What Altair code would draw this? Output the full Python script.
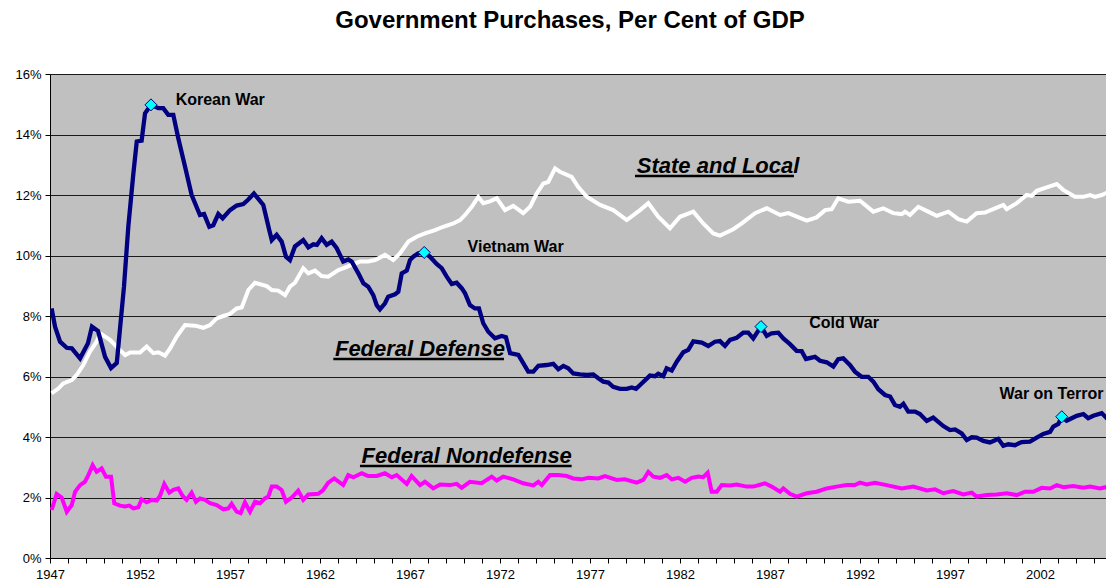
import altair as alt
import pandas as pd

# ---------------- data ----------------
defense_year = [1947.09, 1947.28, 1947.56, 1947.93, 1948.21, 1948.67, 1949.11, 1949.33, 1949.67, 1950.06,
                1950.39, 1950.71, 1951.11, 1951.35, 1951.63, 1951.82, 1952.09, 1952.28, 1952.61, 1953.02,
                1953.29, 1953.57, 1953.85, 1954.13, 1954.5, 1954.87, 1955.33, 1955.56, 1955.85, 1956.07,
                1956.35, 1956.59, 1957.0, 1957.37, 1957.74, 1958.02, 1958.33, 1958.85, 1959.18, 1959.32,
                1959.59, 1959.87, 1960.11, 1960.33, 1960.61, 1961.07, 1961.35, 1961.63, 1961.83, 1962.09,
                1962.37, 1962.65, 1962.93, 1963.29, 1963.57, 1963.76, 1964.13, 1964.41, 1964.68, 1964.96,
                1965.15, 1965.33, 1965.61, 1965.79, 1966.17, 1966.35, 1966.54, 1966.82, 1967.0, 1967.18,
                1967.46, 1967.79, 1968.11, 1968.48, 1968.76, 1969.04, 1969.32, 1969.59, 1969.87, 1970.06,
                1970.33, 1970.61, 1970.83, 1971.07, 1971.35, 1971.72, 1972.09, 1972.33, 1972.56, 1973.02,
                1973.57, 1973.85, 1974.13, 1974.59, 1974.96, 1975.24, 1975.52, 1975.79, 1976.07, 1976.44,
                1976.82, 1977.18, 1977.46, 1977.74, 1978.02, 1978.29, 1978.67, 1979.04, 1979.32, 1979.56,
                1979.87, 1980.33, 1980.61, 1980.79, 1981.07, 1981.26, 1981.54, 1981.82, 1982.18, 1982.46,
                1982.74, 1983.21, 1983.57, 1983.94, 1984.22, 1984.5, 1984.78, 1985.15, 1985.52, 1985.79,
                1986.07, 1986.5, 1986.82, 1987.09, 1987.46, 1987.74, 1988.11, 1988.48, 1988.76, 1989.0,
                1989.5, 1989.78, 1990.15, 1990.52, 1990.79, 1991.07, 1991.26, 1991.44, 1991.72, 1992.09,
                1992.46, 1992.74, 1993.02, 1993.39, 1993.67, 1993.94, 1994.22, 1994.41, 1994.68, 1995.06,
                1995.33, 1995.71, 1996.07, 1996.35, 1996.63, 1997.0, 1997.28, 1997.65, 1997.93, 1998.21,
                1998.48, 1998.85, 1999.22, 1999.41, 1999.68, 1999.96, 2000.24, 2000.61, 2000.98, 2001.44,
                2001.82, 2002.18, 2002.56, 2002.74, 2003.02, 2003.21, 2003.48, 2003.76, 2004.04, 2004.41,
                2004.68, 2004.96, 2005.43, 2005.71, 2006.11]
defense_val = [8.25, 7.65, 7.15, 6.95, 6.93, 6.6, 7.1, 7.65, 7.5, 6.65,
               6.28, 6.45, 8.97, 10.95, 12.7, 13.77, 13.8, 14.7, 14.98, 14.87,
               14.87, 14.65, 14.65, 13.87, 12.94, 12.0, 11.34, 11.37, 10.95, 11.0,
               11.37, 11.23, 11.5, 11.65, 11.7, 11.85, 12.05, 11.67, 10.84, 10.51,
               10.68, 10.46, 9.96, 9.85, 10.3, 10.51, 10.27, 10.37, 10.35, 10.57,
               10.35, 10.46, 10.24, 9.8, 9.87, 9.8, 9.41, 9.08, 8.97, 8.69,
               8.36, 8.22, 8.42, 8.64, 8.72, 8.8, 9.41, 9.5, 9.85, 9.96,
               10.07, 10.1, 9.96, 9.72, 9.58, 9.3, 9.06, 9.1, 8.92, 8.75,
               8.36, 8.25, 8.25, 7.76, 7.48, 7.26, 7.34, 7.3, 6.77, 6.71,
               6.16, 6.16, 6.35, 6.38, 6.42, 6.24, 6.35, 6.27, 6.1, 6.07,
               6.05, 6.07, 5.94, 5.83, 5.8, 5.66, 5.59, 5.59, 5.64, 5.59,
               5.77, 6.03, 6.01, 6.09, 6.01, 6.27, 6.2, 6.49, 6.8, 6.88,
               7.16, 7.12, 7.01, 7.15, 7.17, 7.01, 7.21, 7.28, 7.45, 7.45,
               7.26, 7.65, 7.34, 7.43, 7.45, 7.26, 7.07, 6.85, 6.84, 6.58,
               6.65, 6.52, 6.47, 6.33, 6.57, 6.6, 6.49, 6.38, 6.16, 5.99,
               5.99, 5.83, 5.58, 5.39, 5.34, 5.06, 5.0, 5.1, 4.84, 4.84,
               4.76, 4.53, 4.64, 4.5, 4.36, 4.23, 4.25, 4.12, 3.9, 3.99,
               3.98, 3.87, 3.82, 3.87, 3.94, 3.71, 3.76, 3.73, 3.83, 3.85,
               3.98, 4.1, 4.17, 4.34, 4.43, 4.67, 4.54, 4.62, 4.7, 4.76,
               4.62, 4.7, 4.79, 4.62, 4.67]

state_year = [1947.09, 1947.46, 1947.74, 1948.21, 1948.48, 1948.85, 1949.22, 1949.59, 1949.78, 1950.33,
              1950.79, 1951.17, 1951.44, 1952.0, 1952.37, 1952.74, 1953.02, 1953.39, 1953.67, 1954.04,
              1954.5, 1955.06, 1955.52, 1955.89, 1956.26, 1956.63, 1957.0, 1957.37, 1957.65, 1958.02,
              1958.39, 1959.04, 1959.32, 1959.68, 1960.06, 1960.33, 1960.61, 1961.07, 1961.35, 1961.72,
              1962.09, 1962.46, 1963.02, 1963.39, 1963.76, 1964.22, 1964.68, 1965.06, 1965.61, 1966.07,
              1966.44, 1966.91, 1967.37, 1967.83, 1968.39, 1968.85, 1969.41, 1969.78, 1970.06, 1970.43,
              1970.79, 1971.07, 1971.44, 1971.82, 1972.28, 1972.74, 1973.29, 1973.67, 1974.04, 1974.41,
              1974.68, 1975.06, 1975.33, 1975.98, 1976.35, 1976.82, 1977.56, 1978.29, 1979.04, 1979.78,
              1980.24, 1980.79, 1981.44, 1982.0, 1982.74, 1983.29, 1983.85, 1984.22, 1984.96, 1985.43,
              1986.17, 1986.82, 1987.56, 1988.02, 1989.04, 1989.59, 1990.06, 1990.43, 1990.79, 1991.35,
              1992.0, 1992.74, 1993.29, 1993.85, 1994.32, 1994.5, 1994.78, 1995.24, 1995.79, 1996.26,
              1996.91, 1997.46, 1997.93, 1998.48, 1998.94, 1999.5, 1999.96, 2000.15, 2000.71, 2001.26,
              2001.54, 2001.82, 2002.37, 2002.93, 2003.29, 2003.94, 2004.41, 2004.78, 2005.06, 2005.43,
              2005.71, 2005.89, 2006.11]
state_val = [5.44, 5.6, 5.77, 5.88, 6.05, 6.38, 6.82, 7.15, 7.43, 7.21,
             6.93, 6.71, 6.79, 6.79, 6.99, 6.77, 6.8, 6.69, 6.93, 7.32,
             7.7, 7.68, 7.61, 7.7, 7.92, 8.0, 8.07, 8.25, 8.28, 8.86,
             9.1, 8.99, 8.86, 8.84, 8.69, 8.97, 9.1, 9.58, 9.41, 9.5,
             9.32, 9.3, 9.52, 9.6, 9.69, 9.8, 9.8, 9.85, 10.02, 9.85,
             10.07, 10.46, 10.62, 10.73, 10.84, 10.95, 11.06, 11.17, 11.34, 11.61,
             11.94, 11.73, 11.79, 11.89, 11.5, 11.64, 11.4, 11.61, 12.05, 12.38,
             12.43, 12.88, 12.77, 12.6, 12.26, 11.94, 11.67, 11.5, 11.17, 11.5,
             11.73, 11.28, 10.9, 11.28, 11.45, 11.06, 10.73, 10.66, 10.87, 11.06,
             11.4, 11.56, 11.34, 11.4, 11.15, 11.26, 11.5, 11.53, 11.89, 11.78,
             11.81, 11.45, 11.56, 11.4, 11.37, 11.45, 11.34, 11.61, 11.45, 11.31,
             11.45, 11.2, 11.12, 11.4, 11.42, 11.56, 11.67, 11.53, 11.73, 12.0,
             11.97, 12.14, 12.25, 12.36, 12.17, 11.94, 11.94, 12.0, 11.94, 12.0,
             12.07, 11.97, 12.02]

nondef_year = [1947.09, 1947.37, 1947.65, 1947.93, 1948.21, 1948.39, 1948.67, 1948.94, 1949.13, 1949.37,
               1949.59, 1949.87, 1950.11, 1950.39, 1950.57, 1950.89, 1951.17, 1951.41, 1951.63, 1951.91,
               1952.09, 1952.37, 1952.65, 1952.93, 1953.11, 1953.35, 1953.63, 1953.85, 1954.13, 1954.37,
               1954.59, 1954.87, 1955.11, 1955.33, 1955.61, 1955.89, 1956.26, 1956.63, 1956.91, 1957.09,
               1957.37, 1957.59, 1957.83, 1958.11, 1958.39, 1958.67, 1958.94, 1959.13, 1959.32, 1959.59,
               1959.87, 1960.11, 1960.43, 1960.79, 1961.07, 1961.35, 1961.91, 1962.18, 1962.46, 1962.79,
               1963.29, 1963.57, 1963.85, 1964.32, 1964.68, 1965.15, 1965.61, 1965.98, 1966.26, 1966.82,
               1967.09, 1967.56, 1967.83, 1968.29, 1968.67, 1969.22, 1969.59, 1969.87, 1970.33, 1970.98,
               1971.54, 1971.82, 1972.18, 1972.74, 1973.29, 1973.85, 1974.13, 1974.32, 1974.78, 1975.24,
               1975.71, 1976.07, 1976.54, 1976.91, 1977.46, 1977.83, 1978.48, 1978.94, 1979.59, 1979.96,
               1980.24, 1980.52, 1980.89, 1981.26, 1981.54, 1981.91, 1982.28, 1982.65, 1983.02, 1983.29,
               1983.54, 1983.76, 1984.04, 1984.32, 1984.78, 1985.15, 1985.7, 1986.07, 1986.72, 1987.09,
               1987.56, 1987.74, 1988.11, 1988.48, 1989.04, 1989.59, 1990.15, 1990.7, 1991.26, 1991.72,
               1992.0, 1992.37, 1992.83, 1993.48, 1994.32, 1994.96, 1995.71, 1996.17, 1996.63, 1997.18,
               1997.74, 1998.21, 1998.48, 1999.04, 1999.59, 2000.15, 2000.71, 2001.17, 2001.63, 2002.09,
               2002.56, 2002.93, 2003.29, 2003.85, 2004.41, 2004.78, 2005.33, 2005.79, 2006.11]
nondef_val = [1.59, 2.12, 2.0, 1.53, 1.75, 2.19, 2.41, 2.52, 2.74, 3.07,
              2.85, 2.96, 2.69, 2.69, 1.81, 1.73, 1.7, 1.73, 1.64, 1.68,
              1.94, 1.84, 1.92, 1.9, 2.05, 2.45, 2.16, 2.25, 2.3, 2.05,
              1.92, 2.16, 1.86, 1.97, 1.92, 1.81, 1.75, 1.61, 1.64, 1.79,
              1.53, 1.48, 1.84, 1.53, 1.86, 1.81, 1.97, 2.03, 2.36, 2.36,
              2.25, 1.86, 2.0, 2.23, 1.92, 2.1, 2.12, 2.25, 2.49, 2.63,
              2.41, 2.74, 2.67, 2.8, 2.71, 2.71, 2.8, 2.67, 2.74, 2.45,
              2.71, 2.41, 2.52, 2.3, 2.43, 2.41, 2.45, 2.32, 2.52, 2.47,
              2.69, 2.56, 2.69, 2.6, 2.47, 2.4, 2.52, 2.41, 2.74, 2.74,
              2.71, 2.63, 2.6, 2.65, 2.63, 2.71, 2.58, 2.6, 2.49, 2.58,
              2.85, 2.69, 2.65, 2.74, 2.6, 2.65, 2.52, 2.65, 2.69, 2.67,
              2.82, 2.19, 2.19, 2.41, 2.4, 2.43, 2.36, 2.36, 2.47, 2.36,
              2.19, 2.3, 2.12, 2.03, 2.14, 2.19, 2.3, 2.36, 2.41, 2.41,
              2.49, 2.43, 2.49, 2.41, 2.3, 2.36, 2.23, 2.27, 2.14, 2.21,
              2.1, 2.16, 2.03, 2.08, 2.1, 2.14, 2.08, 2.19, 2.19, 2.32,
              2.3, 2.41, 2.34, 2.38, 2.32, 2.36, 2.3, 2.36, 2.34]

# war markers on the defense line
war_names = ["Korean War", "Vietnam War", "Cold War", "War on Terror"]
war_year = [1952.61, 1967.79, 1986.5, 2003.21]
war_val = [14.98, 10.1, 7.65, 4.67]
# war label anchor (left edge / baseline)
war_label_year = [1953.98, 1970.2, 1989.18, 1999.75]
war_label_val = [14.98, 10.13, 7.61, 5.25]

# series labels (left edge / baseline) and their underlines
series_names = ["State and Local", "Federal Defense", "Federal Nondefense"]
series_label_year = [1979.6, 1962.83, 1964.31]
series_label_val = [12.72, 6.68, 3.15]
underline_start = [1979.5, 1962.74, 1964.22]
underline_end = [1988.33, 1972.22, 1975.98]
underline_val = [12.63, 6.58, 3.04]

x_ticks = list(range(1947, 2006))
y_ticks = [0, 2, 4, 6, 8, 10, 12, 14, 16]

FONT = "Liberation Sans"

# ---------------- frames ----------------
def_df = pd.DataFrame({"year": defense_year, "value": defense_val})
st_df = pd.DataFrame({"year": state_year, "value": state_val})
nd_df = pd.DataFrame({"year": nondef_year, "value": nondef_val})
war_df = pd.DataFrame({"name": war_names, "year": war_year, "value": war_val,
                       "ly": war_label_year, "lv": war_label_val})
ser_df = pd.DataFrame({"name": series_names, "ly": series_label_year, "lv": series_label_val,
                       "u0": underline_start, "u1": underline_end, "uv": underline_val})

# visible range: 18 px per year, clipped at the right edge of the page
xscale = alt.Scale(domain=[1947, 2005.667], nice=False, zero=False)
yscale = alt.Scale(domain=[0, 16], nice=False, zero=True)

xaxis = alt.Axis(values=x_ticks, format="d", title=None, grid=False,
                 labelExpr="(datum.value - 1947) % 5 == 0 ? datum.label : ''",
                 labelOverlap=False, labelFlush=False, tickSize=5, tickColor="black",
                 domainColor="black", labelFont=FONT, labelFontSize=13, labelColor="black",
                 labelPadding=5)
yaxis = alt.Axis(values=y_ticks, format="d", title=None, grid=True, gridColor="#1a1a1a",
                 gridWidth=1, labelExpr="datum.label + '%'", tickSize=5, tickColor="black",
                 domainColor="black", labelFont=FONT, labelFontSize=13, labelColor="black",
                 labelPadding=4)


def XY(xf, yf):
    return dict(x=alt.X(xf, scale=xscale, axis=xaxis), y=alt.Y(yf, scale=yscale, axis=yaxis))


state_line = alt.Chart(st_df).mark_line(color="white", strokeWidth=4, clip=True).encode(
    **XY("year:Q", "value:Q"), order="year:Q")
nondef_line = alt.Chart(nd_df).mark_line(color="#FF00FF", strokeWidth=4, clip=True).encode(
    **XY("year:Q", "value:Q"), order="year:Q")
def_line = alt.Chart(def_df).mark_line(color="#000080", strokeWidth=4.3, clip=True).encode(
    **XY("year:Q", "value:Q"), order="year:Q")

markers = alt.Chart(war_df).mark_point(shape="diamond", filled=True, size=144,
                                       fill="#00FFFF", stroke="#000080", strokeWidth=1,
                                       opacity=1).encode(**XY("year:Q", "value:Q"))

war_text = alt.Chart(war_df).mark_text(align="left", baseline="alphabetic", font=FONT,
                                       fontSize=16, fontWeight="bold", color="black").encode(
    **XY("ly:Q", "lv:Q"), text="name:N")

ser_text = alt.Chart(ser_df).mark_text(align="left", baseline="alphabetic", font=FONT,
                                       fontSize=22, fontWeight="bold", fontStyle="italic",
                                       color="black").encode(
    **XY("ly:Q", "lv:Q"), text="name:N")

underline = alt.Chart(ser_df).mark_rule(color="black", strokeWidth=2.5).encode(
    **XY("u0:Q", "uv:Q"), x2="u1:Q")

chart = alt.layer(state_line, nondef_line, def_line, markers, war_text, ser_text, underline).properties(
    width=1056, height=484,
    autosize=alt.AutoSizeParams(type="none"),
    padding={"left": 42, "top": 66, "right": 0, "bottom": 29},
    background="white",
    title=alt.TitleParams("Government Purchases, Per Cent of GDP", font=FONT, fontSize=24,
                          fontWeight="bold", color="black", anchor="middle", offset=35, dx=-8),
).configure_view(fill="#C0C0C0", stroke="#808080", strokeWidth=1).configure_axis(
    labelFont=FONT, labelFontSize=13, labelColor="black", labelOverlap=False)

chart.save("out.html", embed_options={"renderer": "svg", "actions": False})
